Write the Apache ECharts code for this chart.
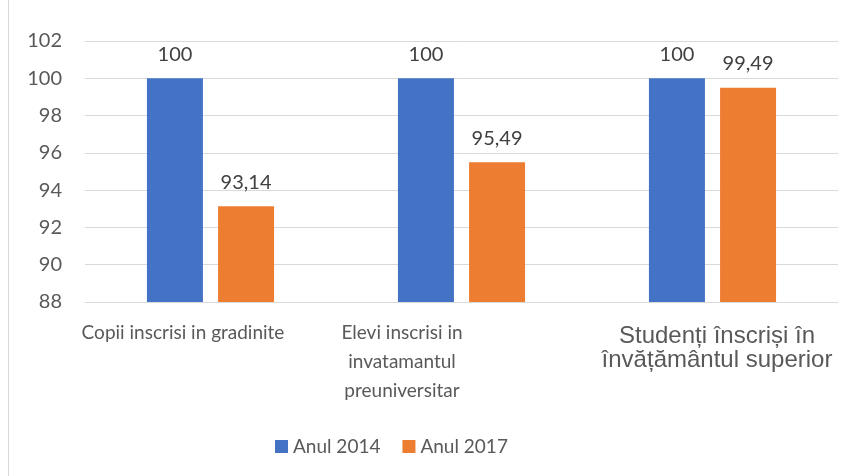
<!DOCTYPE html>
<html>
<head>
<meta charset="utf-8">
<script src="https://cdn.jsdelivr.net/npm/echarts@6/dist/echarts.min.js"></script>
<style>html,body{margin:0;padding:0;background:#fff}#c{width:860px;height:476px}</style>
</head>
<body>
<div id="c"></div>
<script>
const categories = ["Copii inscrisi in gradinite", "Elevi inscrisi in\ninvatamantul\npreuniversitar", "Studenți înscriși în\nînvățământul superior"];
const seriesNames = ["Anul 2014", "Anul 2017"];
const values2014 = [100, 100, 100];
const values2017 = [93.14, 95.49, 99.49];

const chart = echarts.init(document.getElementById('c'), null, {renderer: 'canvas'});
const fmt = v => String(v).replace('.', ',');
const labelKeys = ['a1', 'a2', 'b'];
chart.setOption({
  animation: false,
  backgroundColor: '#fff',
  graphic: [{type: 'line', shape: {x1: 8.5, y1: 0, x2: 8.5, y2: 476}, style: {stroke: '#D9D9D9', lineWidth: 1}}],
  grid: {left: 85, right: 22, top: 41, bottom: 174, containLabel: false},
  legend: {
    data: seriesNames, left: 270, top: 432, itemWidth: 13, itemHeight: 13, itemGap: 22,
    icon: 'rect',
    textStyle: {fontFamily: 'Lato', fontSize: 19, color: '#595959'}
  },
  xAxis: {
    type: 'category', data: categories,
    axisLine: {show: false}, axisTick: {show: false},
    axisLabel: {
      margin: 16, interval: 0,
      formatter: (v, i) => {
        const lines = v.split('\n');
        const k = labelKeys[i];
        return lines.map((l, j) => '{' + (k === 'b' && j === 0 ? 'b0' : k) + '|' + l + '}').join('\n');
      },
      rich: {
        a1: {fontFamily: 'Lato', fontSize: 19, color: '#595959', lineHeight: 29, padding: [0, 55, 0, 0]},
        a2: {fontFamily: 'Lato', fontSize: 19, color: '#595959', lineHeight: 29, padding: [0, 119, 0, 0]},
        b0: {fontFamily: '"Liberation Sans", Arial, sans-serif', fontSize: 24, color: '#595959', lineHeight: 27, padding: [10, 0, 0, 9]},
        b: {fontFamily: '"Liberation Sans", Arial, sans-serif', fontSize: 24, color: '#595959', lineHeight: 31, padding: [0, 0, 0, 9]}
      }
    }
  },
  yAxis: {
    type: 'value', min: 88, max: 102, interval: 2,
    axisLine: {show: false}, axisTick: {show: false},
    splitLine: {lineStyle: {color: '#D9D9D9', width: 1}},
    axisLabel: {margin: 23, fontFamily: 'Lato', fontSize: 20, color: '#595959'}
  },
  series: [
    {name: seriesNames[0], type: 'bar', data: values2014, barWidth: 56, barGap: '27%',
     itemStyle: {color: '#4472C4'},
     label: {show: true, position: 'top', distance: 14, formatter: p => fmt(p.value), fontFamily: 'Lato', fontSize: 20, color: '#404040'}},
    {name: seriesNames[1], type: 'bar', data: values2017, barWidth: 56,
     itemStyle: {color: '#ED7D31'},
     label: {show: true, position: 'top', distance: 14, formatter: p => fmt(p.value), fontFamily: 'Lato', fontSize: 20, color: '#404040'}}
  ]
});
</script>
</body>
</html>
